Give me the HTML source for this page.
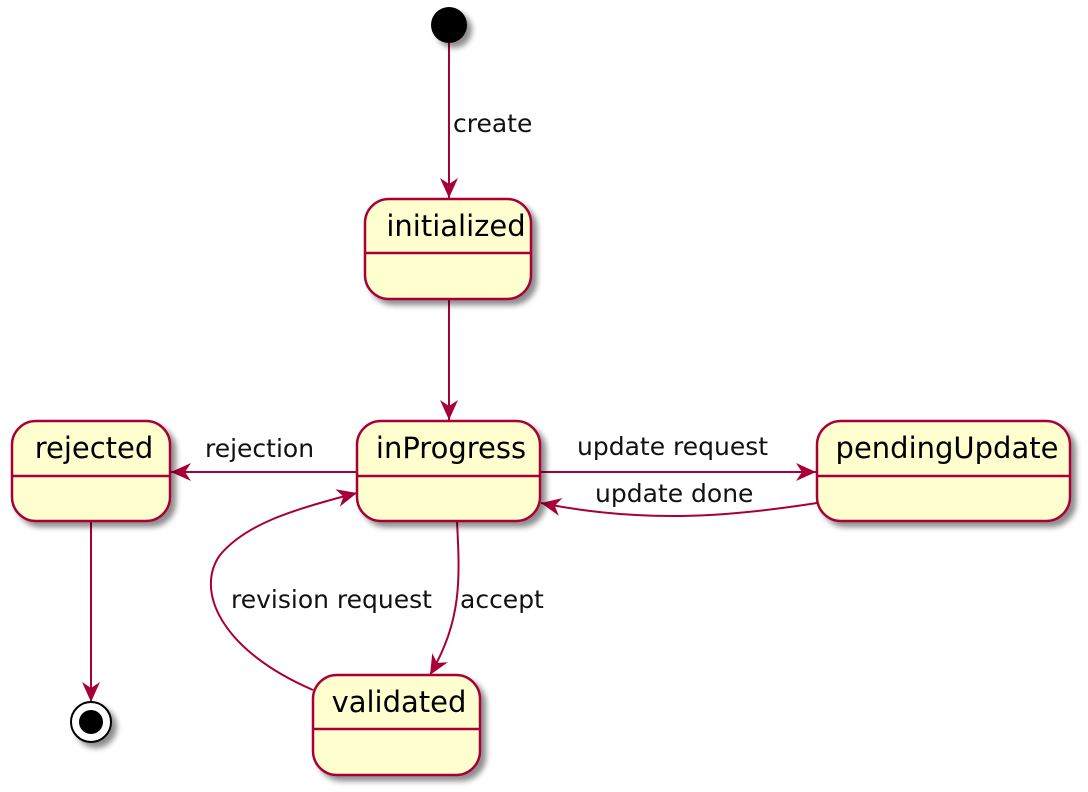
<!DOCTYPE html>
<html><head><meta charset="utf-8"><style>html,body{margin:0;padding:0;background:#fff}svg{display:block}</style></head>
<body>
<svg width="1088" height="792" viewBox="0 0 1088 792" xmlns="http://www.w3.org/2000/svg" font-family="'DejaVu Sans', 'Liberation Sans', sans-serif">
<defs>
<filter id="sh" x="-20%" y="-20%" width="150%" height="150%"><feGaussianBlur in="SourceAlpha" stdDeviation="3"/><feOffset dx="5" dy="5"/><feComponentTransfer><feFuncA type="linear" slope="0.45"/></feComponentTransfer><feMerge><feMergeNode/><feMergeNode in="SourceGraphic"/></feMerge></filter>
<marker id="ar" markerWidth="24" markerHeight="20" refX="20" refY="10" orient="auto" markerUnits="userSpaceOnUse"><path d="M0,1 L20,10 L0,19 L6,10 Z" fill="#A80036"/></marker>
</defs>
<g fill="none" stroke="#A80036" stroke-width="2">
<line x1="449" y1="43" x2="449" y2="198" marker-end="url(#ar)"/>
<line x1="449" y1="299" x2="449" y2="420" marker-end="url(#ar)"/>
<line x1="357" y1="472" x2="171" y2="472" marker-end="url(#ar)"/>
<line x1="540" y1="472" x2="816" y2="472" marker-end="url(#ar)"/>
<path d="M817,503 C740,515 650,525 541,503" marker-end="url(#ar)"/>
<line x1="91" y1="521" x2="91" y2="702" marker-end="url(#ar)"/>
<path d="M457,521 C460,580 462,620 430,675" marker-end="url(#ar)"/>
<path d="M313,690 C220,650 195,590 220,555 C245,525 290,510 357,493" marker-end="url(#ar)"/>
</g>
<g filter="url(#sh)">
<circle cx="449" cy="25" r="18" fill="#000"/>
<g fill="#FEFECE" stroke="#A80036" stroke-width="2.5">
<rect x="365" y="199" width="166" height="100" rx="24"/>
<rect x="357" y="421" width="183" height="100" rx="24"/>
<rect x="12" y="421" width="158" height="100" rx="24"/>
<rect x="817" y="421" width="253" height="100" rx="24"/>
<rect x="313" y="675" width="167" height="100" rx="24"/>
</g>
<circle cx="91" cy="722" r="20" fill="#fff" stroke="#000" stroke-width="2"/>
</g>
<circle cx="91" cy="722" r="12" fill="#000"/>
<g stroke="#A80036" stroke-width="2.5">
<line x1="365" y1="253" x2="531" y2="253"/>
<line x1="357" y1="476" x2="540" y2="476"/>
<line x1="12" y1="476" x2="170" y2="476"/>
<line x1="817" y1="476" x2="1070" y2="476"/>
<line x1="313" y1="729" x2="480" y2="729"/>
</g>
<g fill="#000" font-size="29" text-anchor="middle">
<text x="456" y="236">initialized</text>
<text x="451" y="458">inProgress</text>
<text x="94" y="458">rejected</text>
<text x="947" y="458">pendingUpdate</text>
<text x="399" y="712">validated</text>
</g>
<g fill="#111" font-size="25">
<text x="453" y="132">create</text>
<text x="205" y="457">rejection</text>
<text x="577" y="455">update request</text>
<text x="595" y="502">update done</text>
<text x="231" y="608">revision request</text>
<text x="460" y="608">accept</text>
</g>
</svg>
</body></html>
